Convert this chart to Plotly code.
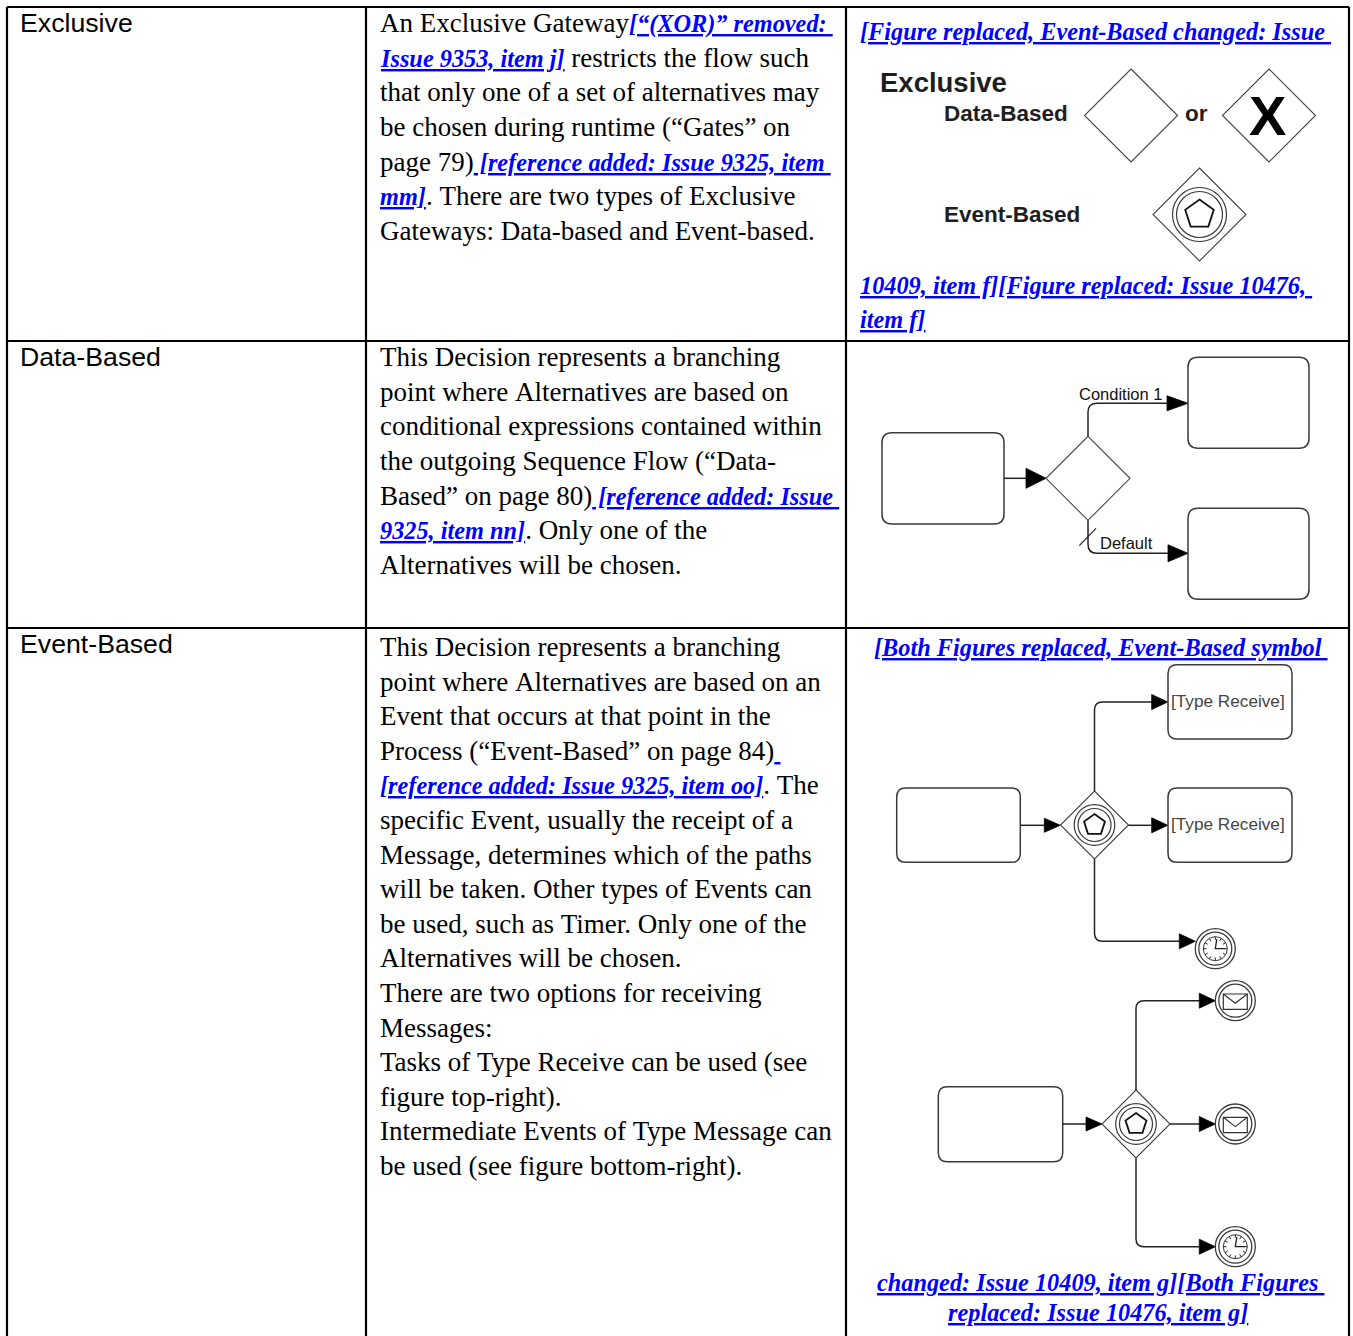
import math
import plotly.graph_objects as go

W, H = 1353, 1336

SERIF = "Liberation Serif, Times New Roman, serif"
SANS = "Liberation Sans, Arial, sans-serif"
LINK = "#0000ff"
INK = "#000000"
STROKE = "#3a3a3a"
GRAYTXT = "#1e1e1e"
LINK_SIZE = 24.3

# ---------------- table content ----------------
ROW_LABELS = ["Exclusive", "Data-Based", "Event-Based"]

# each line: list of (text, is_link)
DESC_EXCLUSIVE = [
    [("An Exclusive Gateway", 0), ("[“(XOR)” removed: ", 1)],
    [("Issue 9353, item j]", 1), (" restricts the flow such", 0)],
    [("that only one of a set of alternatives may", 0)],
    [("be chosen during runtime (“Gates” on", 0)],
    [("page 79)", 0), (" [reference added: Issue 9325, item ", 1)],
    [("mm]", 1), (". There are two types of Exclusive", 0)],
    [("Gateways: Data-based and Event-based.", 0)],
]
DESC_DATA = [
    [("This Decision represents a branching", 0)],
    [("point where Alternatives are based on", 0)],
    [("conditional expressions contained within", 0)],
    [("the outgoing Sequence Flow (“Data-", 0)],
    [("Based” on page 80)", 0), (" [reference added: Issue ", 1)],
    [("9325, item nn]", 1), (". Only one of the", 0)],
    [("Alternatives will be chosen.", 0)],
]
DESC_EVENT = [
    [("This Decision represents a branching", 0)],
    [("point where Alternatives are based on an", 0)],
    [("Event that occurs at that point in the", 0)],
    [("Process (“Event-Based” on page 84)", 0), (" ", 1)],
    [("[reference added: Issue 9325, item oo]", 1), (". The", 0)],
    [("specific Event, usually the receipt of a", 0)],
    [("Message, determines which of the paths", 0)],
    [("will be taken. Other types of Events can", 0)],
    [("be used, such as Timer. Only one of the", 0)],
    [("Alternatives will be chosen.", 0)],
    [("There are two options for receiving", 0)],
    [("Messages:", 0)],
    [("Tasks of Type Receive can be used (see", 0)],
    [("figure top-right).", 0)],
    [("Intermediate Events of Type Message can", 0)],
    [("be used (see figure bottom-right).", 0)],
]
DESCRIPTIONS = [DESC_EXCLUSIVE, DESC_DATA, DESC_EVENT]

FIG1_LINKS = ["[Figure replaced, Event-Based changed: Issue ",
              "10409, item f][Figure replaced: Issue 10476, ",
              "item f]"]
FIG3_LINKS = ["[Both Figures replaced, Event-Based symbol ",
              "changed: Issue 10409, item g][Both Figures ",
              "replaced: Issue 10476, item g]"]

FIG1_LABELS = ["Exclusive", "Data-Based", "or", "X", "Event-Based"]
FLOW_LABELS = ["Condition 1", "Default"]
TASK_LABEL = "[Type Receive]"

# ---------------- layout geometry ----------------
COL_X = [7, 366, 846, 1349]
ROW_Y = [7, 341, 628, 1336]
ROW_TEXT_OFF = [16.2, 16.2, 19.0]
LINE_STEP = 34.6

shapes = []
annotations = []


def seg_html(text, link, inline=True):
    t = text.replace(" ", "\u00a0")
    if link:
        size = f";font-size:{LINK_SIZE}px" if inline else ""
        return f"<span style='color:{LINK}{size}'><b><i><u>{t}</u></i></b></span>"
    return t


def add_text(x, y, html, size, family, color=INK, xanchor="left"):
    annotations.append(dict(x=x, y=y, xref="x", yref="y", text=html, showarrow=False,
                            xanchor=xanchor, yanchor="middle", borderpad=0, borderwidth=0,
                            font=dict(size=size, family=family, color=color)))


def line(x0, y0, x1, y1, w=1.3, c=STROKE):
    shapes.append(dict(type="line", xref="x", yref="y", x0=x0, y0=y0, x1=x1, y1=y1,
                       line=dict(color=c, width=w), layer="above"))


def path(d, w=1.3, c=STROKE, fill="rgba(0,0,0,0)"):
    shapes.append(dict(type="path", xref="x", yref="y", path=d,
                       line=dict(color=c, width=w), fillcolor=fill, layer="above"))


def poly(pts, **kw):
    d = "M " + " L ".join(f"{x:.2f},{y:.2f}" for x, y in pts) + " Z"
    path(d, **kw)


def circle(cx, cy, r, w=1.3, c=STROKE):
    shapes.append(dict(type="circle", xref="x", yref="y", x0=cx - r, x1=cx + r, y0=cy - r, y1=cy + r,
                       line=dict(color=c, width=w), fillcolor="rgba(0,0,0,0)", layer="above"))


def rrect(x0, y0, x1, y1, r, w=1.5, c=STROKE):
    d = (f"M {x0 + r},{y0} L {x1 - r},{y0} Q {x1},{y0} {x1},{y0 + r} L {x1},{y1 - r} "
         f"Q {x1},{y1} {x1 - r},{y1} L {x0 + r},{y1} Q {x0},{y1} {x0},{y1 - r} "
         f"L {x0},{y0 + r} Q {x0},{y0} {x0 + r},{y0} Z")
    path(d, w=w, c=c)


def diamond(cx, cy, h, w=1.1, c="#444444"):
    poly([(cx, cy - h), (cx + h, cy), (cx, cy + h), (cx - h, cy)], w=w, c=c)


def head(tx, ty, L, wd):
    poly([(tx, ty), (tx - L, ty - wd / 2), (tx - L, ty + wd / 2)], w=0.8, c="#000000", fill="#000000")


def arrow_h(x0, x1, y, L=16, wd=14):
    line(x0, y, x1 - L + 1, y, w=1.5, c="#222222")
    head(x1, y, L, wd)


def elbow(sx, sy, ey, ex, r=8, L=16, wd=14):
    s = 1 if ey > sy else -1
    d = f"M {sx},{sy} L {sx},{ey - s * r} Q {sx},{ey} {sx + r},{ey} L {ex - L + 1},{ey}"
    path(d, w=1.5, c="#222222")
    head(ex, ey, L, wd)


def pentagon(cx, cy, R, w=1.8):
    pts = [(cx + R * math.cos(math.radians(-90 + 72 * k)), cy + R * math.sin(math.radians(-90 + 72 * k)))
           for k in range(5)]
    poly(pts, w=w, c="#111111")


def event_gateway(cx, cy, h, r_out, r_in, R):
    diamond(cx, cy, h)
    circle(cx, cy, r_out, w=1.2)
    circle(cx, cy, r_in, w=1.2)
    pentagon(cx, cy, R)


def timer_event(cx, cy):
    circle(cx, cy, 20, w=1.3)
    circle(cx, cy, 16.5, w=1.3)
    circle(cx, cy, 12, w=1.0)
    d = ""
    for k in range(12):
        a = math.radians(k * 30)
        d += (f"M {cx + 8.8 * math.cos(a):.2f},{cy + 8.8 * math.sin(a):.2f} "
              f"L {cx + 12 * math.cos(a):.2f},{cy + 12 * math.sin(a):.2f} ")
    path(d, w=1.0, c="#222222")
    path(f"M {cx + 1.5},{cy - 9.5} L {cx},{cy} L {cx + 9.5},{cy}", w=1.3, c="#222222")


def message_event(cx, cy):
    circle(cx, cy, 20, w=1.3)
    circle(cx, cy, 16.5, w=1.3)
    x0, x1, y0, y1 = cx - 12, cx + 12, cy - 6.7, cy + 8.6
    poly([(x0, y0), (x1, y0), (x1, y1), (x0, y1)], w=1.2, c="#333333")
    path(f"M {x0},{y0} L {cx},{y0 + 9.3} L {x1},{y0}", w=1.2, c="#333333")


# ---------------- table grid ----------------
for x in COL_X:
    line(x, ROW_Y[0], x, H + 5, w=2.2, c="#000000")
for y in ROW_Y[:3]:
    line(COL_X[0], y, COL_X[3], y, w=2.2, c="#000000")

# ---------------- table text ----------------
for i, lab in enumerate(ROW_LABELS):
    add_text(COL_X[0] + 13, ROW_Y[i] + 16.3, lab, 26.7, SANS)

for i, desc in enumerate(DESCRIPTIONS):
    for j, segs in enumerate(desc):
        html = "".join(seg_html(t, l) for t, l in segs)
        add_text(COL_X[1] + 14, ROW_Y[i] + ROW_TEXT_OFF[i] + LINE_STEP * j, html, 27, SERIF)

# right column links
for y, t in zip([31, 285, 319], FIG1_LINKS):
    add_text(860, y, seg_html(t, 1, inline=False), LINK_SIZE, SERIF)
for (x, y), t in zip([(1101, 647.5), (1101, 1282.5), (1098, 1312.5)], FIG3_LINKS):
    add_text(x, y, seg_html(t, 1, inline=False), LINK_SIZE, SERIF, xanchor="center")

# ---------------- figure 1: gateway symbols ----------------
add_text(880, 82, f"<b>{FIG1_LABELS[0]}</b>", 27.5, SANS, GRAYTXT)
add_text(944, 113, f"<b>{FIG1_LABELS[1]}</b>", 22.5, SANS, GRAYTXT)
add_text(1196.5, 113, f"<b>{FIG1_LABELS[2]}</b>", 22.5, SANS, GRAYTXT, xanchor="center")
add_text(1267.5, 115.5, f"<b>{FIG1_LABELS[3]}</b>", 56, SANS, "#000000", xanchor="center")
add_text(944, 214, f"<b>{FIG1_LABELS[4]}</b>", 22.5, SANS, GRAYTXT)
diamond(1131, 115.5, 46.5)
diamond(1269, 115.5, 46.5)
event_gateway(1199.5, 214.5, 46.5, 27, 23, 15)

# ---------------- figure 2: data-based flow ----------------
rrect(882, 432.7, 1004, 524, 10)
arrow_h(1004, 1046, 478.3, L=20, wd=20)
diamond(1088, 478.3, 42)
elbow(1088, 436.3, 403.3, 1188, r=9, L=21, wd=15)
elbow(1088, 520.3, 553.3, 1188, r=9, L=20, wd=17)
rrect(1188, 357.3, 1309, 448.3, 10)
rrect(1188, 508.3, 1309, 599.3, 10)
line(1079.3, 545.7, 1096, 528.3, w=1.2, c="#222222")
add_text(1079, 394, FLOW_LABELS[0], 16.5, SANS, "#111111")
add_text(1100, 543.3, FLOW_LABELS[1], 16.5, SANS, "#111111")

# ---------------- figure 3a: tasks of type receive ----------------
rrect(896.7, 788, 1020.3, 862.3, 9)
arrow_h(1020.3, 1060.3, 825.3)
event_gateway(1094.5, 825, 34, 20.3, 16.5, 11)
elbow(1094.5, 791, 702, 1167.7, r=8, L=16, wd=15)
arrow_h(1128.5, 1167.7, 825.3, L=16, wd=15)
elbow(1094.5, 859, 941.3, 1195.3, r=8, L=16, wd=15)
rrect(1168, 664.7, 1292, 739, 9)
rrect(1168, 788, 1292, 862.3, 9)
add_text(1171, 700.7, TASK_LABEL, 17.2, SANS, "#444444")
add_text(1171, 824, TASK_LABEL, 17.2, SANS, "#444444")
timer_event(1215.3, 948.7)

# ---------------- figure 3b: message events ----------------
rrect(938.3, 1086.7, 1062.7, 1161.7, 9)
arrow_h(1062.7, 1102, 1124)
event_gateway(1136, 1124, 34, 20.3, 16.5, 11)
elbow(1136, 1090, 1000.7, 1215.3, r=8, L=16, wd=15)
arrow_h(1170, 1215.3, 1124, L=16, wd=15)
elbow(1136, 1158.3, 1246.7, 1215.3, r=8, L=16, wd=15)
message_event(1235.3, 1000.7)
message_event(1235.3, 1124)
timer_event(1235.3, 1246.7)

fig = go.Figure(go.Scatter(x=[], y=[], hoverinfo="skip"))
fig.update_layout(
    width=W, height=H, margin=dict(l=0, r=0, t=0, b=0),
    paper_bgcolor="white", plot_bgcolor="white", showlegend=False,
    xaxis=dict(range=[0, W], visible=False, fixedrange=True),
    yaxis=dict(range=[H, 0], visible=False, fixedrange=True),
    shapes=shapes, annotations=annotations,
)
fig.write_html("out.html", config={"displayModeBar": False},
               post_script="document.body.style.margin='0';document.documentElement.style.overflow='hidden';")
